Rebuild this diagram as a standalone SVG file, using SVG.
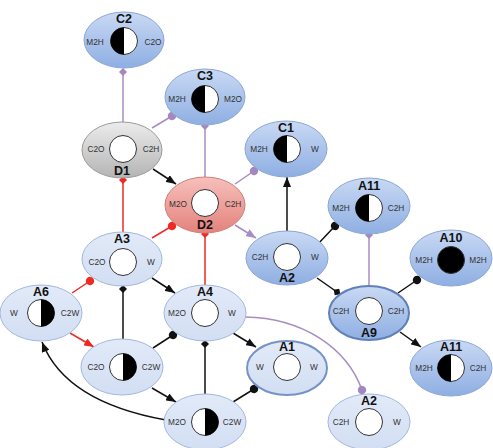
<svg xmlns="http://www.w3.org/2000/svg" xmlns:xlink="http://www.w3.org/1999/xlink" width="493" height="448" viewBox="0 0 493 448">
  <style>
    text { font-family: "Liberation Sans", Arial, Helvetica, sans-serif; text-anchor: middle; }
    .name { font-size: 12.5px; font-weight: bold; fill: #111; }
    .port { font-size: 8.3px; fill: #333; }
    .blue { fill: url(#gBlue); stroke: #8aa6d4; stroke-width: 1; }
    .pale { fill: url(#gPale); stroke: #a3b8dc; stroke-width: 1; }
    .blue-strong { fill: url(#gBlue); stroke: #5f80b8; stroke-width: 2; }
    .pale-strong { fill: url(#gPale); stroke: #7693c6; stroke-width: 2; }
    .grey { fill: url(#gGrey); stroke: #9a9a9a; stroke-width: 1; }
    .red { fill: url(#gRed); stroke: #cf7c78; stroke-width: 1; }
    .hole { fill: #fff; stroke: #333; stroke-width: 1; }
    .half { fill: #000; }
    .e { fill: none; stroke-width: 1.5; }
    .k { stroke: #111; }
    .p { stroke: #a88cc2; }
    .r { stroke: #ee2a24; }
  </style>
  <defs>
    <linearGradient id="gBlue" x1="0" y1="0" x2="0" y2="1">
      <stop offset="0" stop-color="#c9d9f4"/>
      <stop offset="1" stop-color="#8eaee2"/>
    </linearGradient>
    <linearGradient id="gPale" x1="0" y1="0" x2="0" y2="1">
      <stop offset="0" stop-color="#e2eaf8"/>
      <stop offset="1" stop-color="#d2def3"/>
    </linearGradient>
    <linearGradient id="gGrey" x1="0" y1="0" x2="0" y2="1">
      <stop offset="0" stop-color="#ececec"/>
      <stop offset="1" stop-color="#b4b4b4"/>
    </linearGradient>
    <linearGradient id="gRed" x1="0" y1="0" x2="0" y2="1">
      <stop offset="0" stop-color="#f6c0bc"/>
      <stop offset="1" stop-color="#e4827c"/>
    </linearGradient>
    <!-- arrowheads -->
    <marker id="arrK" markerUnits="userSpaceOnUse" markerWidth="10" markerHeight="8" refX="10" refY="4" orient="auto">
      <path d="M0,0 L10,4 L0,8 Z" fill="#111"/>
    </marker>
    <marker id="arrP" markerUnits="userSpaceOnUse" markerWidth="10" markerHeight="8" refX="10" refY="4" orient="auto">
      <path d="M0,0 L10,4 L0,8 Z" fill="#a88cc2"/>
    </marker>
    <marker id="arrR" markerUnits="userSpaceOnUse" markerWidth="10" markerHeight="8" refX="10" refY="4" orient="auto">
      <path d="M0,0 L10,4 L0,8 Z" fill="#ee2a24"/>
    </marker>
    <!-- round ends -->
    <marker id="dotK" markerUnits="userSpaceOnUse" markerWidth="10" markerHeight="10" refX="5" refY="5" orient="auto">
      <circle cx="5" cy="5" r="4.2" fill="#111"/>
    </marker>
    <marker id="dotP" markerUnits="userSpaceOnUse" markerWidth="10" markerHeight="10" refX="5" refY="5" orient="auto">
      <circle cx="5" cy="5" r="4.2" fill="#a587bf"/>
    </marker>
    <marker id="dotR" markerUnits="userSpaceOnUse" markerWidth="10" markerHeight="10" refX="5" refY="5" orient="auto">
      <circle cx="5" cy="5" r="4.2" fill="#ee2a24"/>
    </marker>
    <!-- diamond ends -->
    <marker id="diaK" markerUnits="userSpaceOnUse" markerWidth="8" markerHeight="8" refX="4" refY="4" orient="auto">
      <path d="M0,4 L4,0 L8,4 L4,8 Z" fill="#111"/>
    </marker>
    <marker id="diaP" markerUnits="userSpaceOnUse" markerWidth="8" markerHeight="8" refX="4" refY="4" orient="auto">
      <path d="M0,4 L4,0 L8,4 L4,8 Z" fill="#a587bf"/>
    </marker>
    <marker id="diaR" markerUnits="userSpaceOnUse" markerWidth="8" markerHeight="8" refX="4" refY="4" orient="auto">
      <path d="M0,4 L4,0 L8,4 L4,8 Z" fill="#ee2a24"/>
    </marker>
  </defs>

  <rect width="493" height="448" fill="#fff"/>

  <!-- connectors -->
  <g id="connectors">
    <line class="e p" x1="123" y1="122" x2="123" y2="72" marker-end="url(#diaP)"/>
    <line class="e p" x1="152" y1="128" x2="172" y2="116" marker-end="url(#dotP)"/>
    <line class="e p" x1="205" y1="178" x2="205" y2="126" marker-end="url(#diaP)"/>
    <line class="e k" x1="153" y1="169" x2="176" y2="184" marker-end="url(#arrK)"/>
    <line class="e p" x1="235" y1="184" x2="254" y2="171" marker-end="url(#dotP)"/>
    <line class="e r" x1="123" y1="232" x2="123" y2="180" marker-end="url(#diaR)"/>
    <line class="e r" x1="152" y1="238" x2="172" y2="226" marker-end="url(#dotR)"/>
    <line class="e r" x1="205" y1="285" x2="205" y2="234" marker-end="url(#diaR)"/>
    <line class="e p" x1="235" y1="225" x2="256" y2="238" marker-end="url(#arrP)"/>
    <line class="e k" x1="287" y1="231" x2="287" y2="177" marker-end="url(#arrK)"/>
    <line class="e k" x1="317" y1="245" x2="335" y2="226" marker-end="url(#dotK)"/>
    <line class="e k" x1="317" y1="278" x2="337" y2="292" marker-end="url(#diaK)"/>
    <line class="e p" x1="369" y1="287" x2="369" y2="235" marker-end="url(#diaP)"/>
    <line class="e k" x1="398" y1="293" x2="417" y2="280" marker-end="url(#dotK)"/>
    <line class="e k" x1="400" y1="332" x2="421" y2="347" marker-end="url(#arrK)"/>
    <line class="e r" x1="72" y1="293" x2="90" y2="281" marker-end="url(#dotR)"/>
    <line class="e k" x1="152" y1="278" x2="175" y2="293" marker-end="url(#arrK)"/>
    <line class="e k" x1="123" y1="340" x2="123" y2="289" marker-end="url(#diaK)"/>
    <line class="e r" x1="70" y1="333" x2="94" y2="347" marker-end="url(#arrR)"/>
    <line class="e k" x1="153" y1="348" x2="173" y2="335" marker-end="url(#dotK)"/>
    <line class="e k" x1="152" y1="388" x2="176" y2="402" marker-end="url(#arrK)"/>
    <line class="e k" x1="205" y1="394" x2="205" y2="344" marker-end="url(#diaK)"/>
    <path class="e k" d="M166,420 C110,410 60,388 42,342" marker-end="url(#arrK)"/>
    <line class="e k" x1="233" y1="333" x2="256" y2="347" marker-end="url(#arrK)"/>
    <line class="e k" x1="233" y1="402" x2="254" y2="389" marker-end="url(#dotK)"/>
    <path class="e p" d="M245,317 C303,318 347,348 362,390" marker-end="url(#dotP)"/>
  </g>

  <!-- nodes -->
  <g id="node-C2" transform="translate(124,40)">
    <ellipse class="blue" rx="40" ry="28"/>
    <text class="name" y="-17">C2</text>
    <circle class="hole" cx="0" cy="1" r="13.5"/>
    <path class="half" d="M0,-12.5 A13.5,13.5 0 0 0 0,14.5 Z"/>
    <text class="port" x="-29" y="5">M2H</text>
    <text class="port" x="29" y="5">C2O</text>
  </g>

  <g id="node-C3" transform="translate(205,97)">
    <ellipse class="blue" rx="40" ry="28"/>
    <text class="name" y="-17">C3</text>
    <circle class="hole" cx="0" cy="2" r="13.5"/>
    <path class="half" d="M0,-11.5 A13.5,13.5 0 0 0 0,15.5 Z"/>
    <text class="port" x="-28" y="5">M2H</text>
    <text class="port" x="28" y="5">M2O</text>
  </g>

  <g id="node-D1" transform="translate(122,150)">
    <ellipse class="grey" rx="40" ry="28"/>
    <circle class="hole" cx="1" cy="-1" r="13.5"/>
    <text class="port" x="-26" y="2">C2O</text>
    <text class="port" x="29" y="2">C2H</text>
    <text class="name" y="25">D1</text>
  </g>

  <g id="node-D2" transform="translate(205,205)">
    <ellipse class="red" rx="40" ry="28"/>
    <circle class="hole" cx="0" cy="-2" r="13.5"/>
    <text class="port" x="-27" y="2">M2O</text>
    <text class="port" x="28" y="2">C2H</text>
    <text class="name" y="24">D2</text>
  </g>

  <g id="node-C1" transform="translate(286,149)">
    <ellipse class="blue" rx="41" ry="28"/>
    <text class="name" y="-17">C1</text>
    <circle class="hole" cx="1" cy="0" r="13.5"/>
    <path class="half" d="M1,-13.5 A13.5,13.5 0 0 0 1,13.5 Z"/>
    <text class="port" x="-27" y="3">M2H</text>
    <text class="port" x="29" y="3">W</text>
  </g>

  <g id="node-A11-top" transform="translate(369,206)">
    <ellipse class="blue" rx="41" ry="28"/>
    <text class="name" y="-16">A11</text>
    <circle class="hole" cx="0" cy="2" r="13.5"/>
    <path class="half" d="M0,-11.5 A13.5,13.5 0 0 0 0,15.5 Z"/>
    <text class="port" x="-28" y="5">M2H</text>
    <text class="port" x="27" y="5">C2H</text>
  </g>

  <g id="node-A3" transform="translate(122,259)">
    <ellipse class="pale" rx="40" ry="27"/>
    <text class="name" y="-16">A3</text>
    <circle class="hole" cx="1" cy="3" r="13.5"/>
    <text class="port" x="-25" y="6">C2O</text>
    <text class="port" x="29" y="6">W</text>
  </g>

  <g id="node-A2-mid" transform="translate(287,258)">
    <ellipse class="blue" rx="41" ry="27"/>
    <circle class="hole" cx="0" cy="-1" r="13.5"/>
    <text class="port" x="-27" y="2">C2H</text>
    <text class="port" x="28" y="2">W</text>
    <text class="name" y="24">A2</text>
  </g>

  <g id="node-A10" transform="translate(451,258)">
    <ellipse class="blue" rx="41" ry="28"/>
    <text class="name" y="-16">A10</text>
    <circle cx="0" cy="2" r="13.5" fill="#000" stroke="#333" stroke-width="1"/>
    <text class="port" x="-27" y="5">M2H</text>
    <text class="port" x="27" y="5">M2H</text>
  </g>

  <g id="node-A6" transform="translate(41,313)">
    <ellipse class="pale" rx="41" ry="28"/>
    <text class="name" y="-17">A6</text>
    <circle class="hole" cx="0" cy="0" r="13.5"/>
    <path class="half" d="M0,-13.5 A13.5,13.5 0 0 1 0,13.5 Z"/>
    <text class="port" x="-27" y="3">W</text>
    <text class="port" x="29" y="3">C2W</text>
  </g>

  <g id="node-A4" transform="translate(205,313)">
    <ellipse class="pale" rx="41" ry="28"/>
    <text class="name" y="-17">A4</text>
    <circle class="hole" cx="0" cy="0" r="13.5"/>
    <text class="port" x="-28" y="3">M2O</text>
    <text class="port" x="27" y="3">W</text>
  </g>

  <g id="node-A9" transform="translate(369,313)">
    <ellipse class="blue-strong" rx="40" ry="27"/>
    <circle class="hole" cx="0" cy="-2" r="13.5"/>
    <text class="port" x="-28" y="1">C2H</text>
    <text class="port" x="27" y="1">C2H</text>
    <text class="name" y="24">A9</text>
  </g>

  <g id="node-c2o-c2w" transform="translate(122,367)">
    <ellipse class="pale" rx="41" ry="28"/>
    <circle class="hole" cx="1" cy="0" r="13.5"/>
    <path class="half" d="M1,-13.5 A13.5,13.5 0 0 1 1,13.5 Z"/>
    <text class="port" x="-26" y="3">C2O</text>
    <text class="port" x="29" y="3">C2W</text>
  </g>

  <g id="node-A1" transform="translate(287,368)">
    <ellipse class="pale-strong" rx="40" ry="27"/>
    <text class="name" y="-17">A1</text>
    <circle class="hole" cx="0" cy="-1" r="13.5"/>
    <text class="port" x="-27" y="2">W</text>
    <text class="port" x="27" y="2">W</text>
  </g>

  <g id="node-A11-bottom" transform="translate(451,368)">
    <ellipse class="blue" rx="41" ry="28"/>
    <text class="name" y="-17">A11</text>
    <circle class="hole" cx="0" cy="0" r="13.5"/>
    <path class="half" d="M0,-13.5 A13.5,13.5 0 0 0 0,13.5 Z"/>
    <text class="port" x="-27" y="3">M2H</text>
    <text class="port" x="27" y="3">C2H</text>
  </g>

  <g id="node-m2o-c2w" transform="translate(205,422)">
    <ellipse class="pale" rx="41" ry="28"/>
    <circle class="hole" cx="0" cy="0" r="13.5"/>
    <path class="half" d="M0,-13.5 A13.5,13.5 0 0 1 0,13.5 Z"/>
    <text class="port" x="-28" y="3">M2O</text>
    <text class="port" x="27" y="3">C2W</text>
  </g>

  <g id="node-A2-bottom" transform="translate(369,422)">
    <ellipse class="pale" rx="41" ry="28"/>
    <text class="name" y="-17">A2</text>
    <circle class="hole" cx="0" cy="0" r="13.5"/>
    <text class="port" x="-28" y="3">C2H</text>
    <text class="port" x="28" y="3">W</text>
  </g>
</svg>
